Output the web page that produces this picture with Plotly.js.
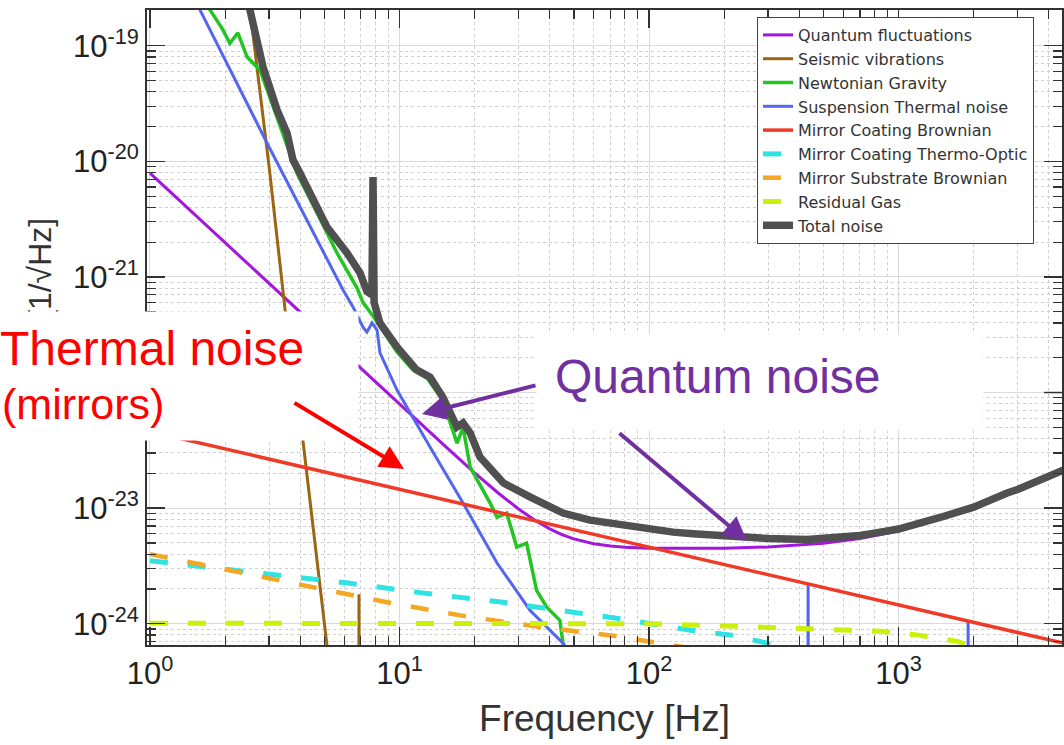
<!DOCTYPE html>
<html>
<head>
<meta charset="utf-8">
<script src="https://cdn.plot.ly/plotly-3.0.1.min.js"></script>
<style>
  html, body { margin: 0; padding: 0; background: #ffffff; }
  #chart { width: 1064px; height: 745px; }
</style>
</head>
<body>
<div id="chart"></div>
<script>
// ---------------- data ----------------
const quantumF = [1, 1.5, 2, 3, 4, 5, 7, 10, 12, 15, 20, 25, 30, 35, 40, 45, 50, 60, 70, 80, 100, 150, 200, 300, 500, 700, 1000, 1500, 2000, 3000, 5000];
const quantumV = [7.9e-21, 3.51e-21, 1.975e-21, 8.78e-22, 4.94e-22, 3.16e-22, 1.61e-22, 7.91e-23, 5.51e-23, 3.54e-23, 2.02e-23, 1.339e-23, 9.82e-24, 7.81e-24, 6.62e-24, 5.88e-24, 5.42e-24, 4.92e-24, 4.70e-24, 4.58e-24, 4.49e-24, 4.47e-24, 4.50e-24, 4.61e-24, 4.96e-24, 5.45e-24, 6.35e-24, 8.16e-24, 1.017e-23, 1.444e-23, 2.33e-23];

const seismicF = [2.3, 2.68, 3.0, 3.48, 4.1, 5.12, 5.6, 6.86, 6.88, 6.92, 10];
const seismicV = [1e-18, 6.5e-20, 9.1e-21, 5.15e-22, 3.87e-23, 6.5e-25, 1e-25, 1e-27, 1.8e-24, 1e-27, 1e-28];

const newtonF = [1.5, 1.74, 1.95, 2.09, 2.25, 2.45, 2.76, 3.2, 3.88, 4.67, 5.62, 6.76, 7.14, 7.83, 8.35, 9.77, 11.33, 12.9, 14.9, 17.0, 17.97, 19.2, 23.1, 24.6, 26.9, 29.5, 32.3, 35.4, 38.9, 43.9, 45.2, 50, 60, 100];
const newtonV = [3.5e-19, 2.04e-19, 1.4e-19, 1.05e-19, 1.29e-19, 7.98e-20, 6.17e-20, 2.55e-20, 7.92e-21, 3.57e-21, 1.61e-21, 8.0e-22, 6.0e-22, 4.6e-22, 3.7e-22, 2.24e-22, 1.56e-22, 1.33e-22, 8.6e-23, 3.65e-23, 5.0e-23, 2.26e-23, 1.10e-23, 8.35e-24, 9.05e-24, 4.6e-24, 4.98e-24, 1.95e-24, 1.39e-24, 1.07e-24, 6.8e-25, 3e-25, 1e-25, 1e-26];

const suspF = [1.0, 1.586, 2.944, 5.94, 6.51, 7.14, 7.4, 7.76, 8.13, 8.35, 9.77, 11.33, 13.25, 17.97, 24.6, 33.3, 45.2, 60, 100, 300, 430, 434, 438, 1890, 1900, 1910, 5000];
const suspV = [1.4e-18, 2.04e-19, 1.44e-20, 7.7e-22, 5.5e-22, 3.68e-22, 3.33e-22, 4.0e-22, 3.47e-22, 2.2e-22, 1.05e-22, 6.13e-23, 3.38e-23, 1.107e-23, 3.35e-24, 1.31e-24, 6.8e-25, 2.7e-25, 5e-26, 1e-27, 1e-28, 2.2e-24, 1e-28, 1e-29, 1.05e-24, 1e-29, 1e-30];

const coatBrF = [1, 3, 10, 30, 100, 300, 1000, 3000, 5000];
const coatBrV = [4.6e-23, 2.66e-23, 1.455e-23, 8.4e-24, 4.6e-24, 2.66e-24, 1.455e-24, 8.4e-25, 6.5e-25];

const coatToF = [1, 3.08, 6.22, 12.5, 25.5, 51.9, 73.1, 146, 211, 297, 401, 1000, 5000];
const coatToV = [3.5e-24, 2.69e-24, 2.25e-24, 1.84e-24, 1.54e-24, 1.24e-24, 1.12e-24, 8.8e-25, 8.0e-25, 6.8e-25, 4.9e-25, 2.5e-25, 8e-26];

const substrF = [1, 2.17, 4.41, 8.82, 17.97, 36.2, 73.1, 102.6, 200, 1000, 5000];
const substrV = [4.0e-24, 2.86e-24, 2.12e-24, 1.54e-24, 1.17e-24, 9.4e-25, 7.83e-25, 6.95e-25, 5.6e-25, 3.2e-25, 1.8e-25];

const gasF = [1, 100, 209, 424, 605, 851, 1206, 1740, 2500, 5000];
const gasV = [1.01e-24, 1.0e-24, 9.55e-25, 9.16e-25, 8.98e-25, 8.6e-25, 7.97e-25, 7.0e-25, 5e-25, 2.5e-25];

const totalF = [2.3, 2.52, 2.84, 3.23, 3.54, 3.74, 3.99, 4.5, 5.12, 6.16, 6.95, 7.4, 7.75, 7.83, 7.91, 8.35, 9.77, 11.7, 13.25, 14.9, 17.0, 17.97, 19.2, 21.0, 26.1, 33.3, 36.6, 45.2, 58, 70, 100, 125, 150, 200, 300, 430, 500, 700, 790, 1000, 1466, 2000, 2723, 3000, 4565, 5000];
const totalV = [8e-19, 2.0e-19, 6.54e-20, 2.78e-20, 1.76e-20, 1.03e-20, 7.92e-21, 4.63e-21, 2.70e-21, 1.61e-21, 1.08e-21, 7.5e-22, 7.0e-22, 7.3e-21, 6.0e-22, 3.99e-22, 2.48e-22, 1.57e-22, 1.36e-22, 9.14e-23, 5.03e-23, 5.45e-23, 4.46e-23, 2.77e-23, 1.65e-23, 1.25e-23, 1.13e-23, 9.06e-24, 7.88e-24, 7.4e-24, 6.6e-24, 6.2e-24, 6.0e-24, 5.7e-24, 5.45e-24, 5.35e-24, 5.45e-24, 5.8e-24, 6.05e-24, 6.6e-24, 8.3e-24, 1.02e-23, 1.35e-23, 1.45e-23, 2.13e-23, 2.34e-23];

const seriesNames = ['Quantum fluctuations', 'Seismic vibrations', 'Newtonian Gravity', 'Suspension Thermal noise', 'Mirror Coating Brownian', 'Mirror Coating Thermo-Optic', 'Mirror Substrate Brownian', 'Residual Gas', 'Total noise'];

const xTickVals = [1, 10, 100, 1000];
const xTickText = ['10<sup>0</sup>', '10<sup>1</sup>', '10<sup>2</sup>', '10<sup>3</sup>'];
// 10^-22 is hidden behind the "Thermal noise" overlay in the reference; only its grid line shows
const yTickVals = [1e-24, 1e-23, 1e-21, 1e-20, 1e-19];
const yTickText = ['10<sup>-24</sup>', '10<sup>-23</sup>', '10<sup>-21</sup>', '10<sup>-20</sup>', '10<sup>-19</sup>'];
const yHiddenDecade = 1e-22;

// ---------------- styling ----------------
const FONT = 'Liberation Sans, Arial, Helvetica, sans-serif';
const W = 1064, H = 745;
const M = {l: 147, r: 2, t: 10, b: 100};
const PW = W - M.l - M.r, PH = H - M.t - M.b;
const XR = [-0.012, 3.655], YR = [-24.184, -18.691];
function px(x) { return (x - M.l) / PW; }
function py(y) { return (H - M.b - y) / PH; }
function yPaper(v) { return (Math.log10(v) - YR[0]) / (YR[1] - YR[0]); }

function minorTicks(lo, hi) {
  const out = [];
  for (let e = lo; e <= hi; e++) for (let m = 2; m <= 9; m++) out.push(m * Math.pow(10, e));
  return out;
}

const dashPat = '18px,20px';
const traces = [
  {x: quantumF, y: quantumV, name: seriesNames[0], line: {color: '#a516dc', width: 3}},
  {x: seismicF, y: seismicV, name: seriesNames[1], line: {color: '#9a6612', width: 3}},
  {x: newtonF, y: newtonV, name: seriesNames[2], line: {color: '#22c522', width: 3.5}},
  {x: suspF, y: suspV, name: seriesNames[3], line: {color: '#5466ee', width: 3}},
  {x: coatBrF, y: coatBrV, name: seriesNames[4], line: {color: '#f03a28', width: 3.5}},
  {x: coatToF, y: coatToV, name: seriesNames[5], line: {color: '#2fe3e3', width: 5, dash: dashPat}},
  {x: substrF, y: substrV, name: seriesNames[6], line: {color: '#f5a623', width: 4.5, dash: dashPat}},
  {x: gasF, y: gasV, name: seriesNames[7], line: {color: '#cdf00a', width: 5, dash: dashPat}},
  {x: totalF, y: totalV, name: seriesNames[8], line: {color: '#505050', width: 7.5}}
].map(t => Object.assign({type: 'scatter', mode: 'lines', hoverinfo: 'skip'}, t));

const axisCommon = {
  type: 'log', tickmode: 'array', ticks: 'inside', ticklen: 18, tickwidth: 1.5, tickcolor: '#333',
  showline: true, linecolor: '#333', linewidth: 2, mirror: 'ticks',
  showgrid: true, gridcolor: '#dadada', gridwidth: 1, zeroline: false, automargin: false,
  tickfont: {family: FONT, size: 31, color: '#222'}
};

const layout = {
  width: W, height: H, margin: M,
  paper_bgcolor: '#ffffff', plot_bgcolor: '#ffffff',
  font: {family: FONT, color: '#333'},
  showlegend: true,
  legend: {
    x: px(757), y: py(17), xanchor: 'left', yanchor: 'top',
    bgcolor: '#ffffff', bordercolor: '#444', borderwidth: 1,
    font: {family: 'DejaVu Sans, Liberation Sans, sans-serif', size: 16, color: '#333'}, tracegroupgap: 0
  },
  xaxis: Object.assign({}, axisCommon, {
    range: XR, tickvals: xTickVals, ticktext: xTickText,
    minor: {tickmode: 'array', tickvals: minorTicks(0, 3), ticks: 'inside', ticklen: 9, tickcolor: '#333', tickwidth: 1.2,
            showgrid: true, gridcolor: '#cfcfcf', griddash: 'dot', gridwidth: 1},
    title: {text: 'Frequency [Hz]', font: {family: FONT, size: 37, color: '#333'}, standoff: 15}
  }),
  yaxis: Object.assign({}, axisCommon, {
    range: YR, tickvals: yTickVals, ticktext: yTickText,
    minor: {tickmode: 'array', tickvals: minorTicks(-25, -19), ticks: 'inside', ticklen: 9, tickcolor: '#333', tickwidth: 1.2,
            showgrid: true, gridcolor: '#cfcfcf', griddash: 'dot', gridwidth: 1}
  }),
  shapes: [
    // grid line and right-hand tick of the hidden 10^-22 decade
    {type: 'line', layer: 'below', xref: 'paper', yref: 'paper', x0: 0, x1: 1,
     y0: yPaper(yHiddenDecade), y1: yPaper(yHiddenDecade), line: {color: '#dadada', width: 1}},
    {type: 'line', layer: 'above', xref: 'paper', yref: 'paper', x0: 1 - 18 / PW, x1: 1,
     y0: yPaper(yHiddenDecade), y1: yPaper(yHiddenDecade), line: {color: '#333', width: 1.5}}
  ],
  annotations: [
    // y-axis title (its lower part is hidden by the overlay box, as in the reference)
    {text: '[1/√Hz]', xref: 'paper', yref: 'paper', x: px(40), y: py(269), textangle: -90,
     xanchor: 'center', yanchor: 'middle', showarrow: false, font: {family: FONT, size: 32, color: '#333'}},
    // white overlay boxes
    {text: ' ', xref: 'paper', yref: 'paper', x: px(179), y: py(376), width: 358, height: 128, borderpad: 0,
     xanchor: 'center', yanchor: 'middle', showarrow: false, bgcolor: '#ffffff'},
    {text: ' ', xref: 'paper', yref: 'paper', x: px(760), y: py(382.5), width: 446, height: 95, borderpad: 0,
     xanchor: 'center', yanchor: 'middle', showarrow: false, bgcolor: '#ffffff'},
    // callout texts
    {text: 'Thermal noise', xref: 'paper', yref: 'paper', x: px(-2), y: py(348), xanchor: 'left', yanchor: 'middle',
     showarrow: false, font: {family: FONT, size: 48, color: '#ff0000'}},
    {text: '(mirrors)', xref: 'paper', yref: 'paper', x: px(0), y: py(404), xanchor: 'left', yanchor: 'middle',
     showarrow: false, font: {family: FONT, size: 43, color: '#ff0000'}},
    {text: 'Quantum noise', xref: 'paper', yref: 'paper', x: px(553), y: py(377), xanchor: 'left', yanchor: 'middle',
     showarrow: false, font: {family: FONT, size: 48, color: '#7030a0'}},
    // arrows
    {text: '', xref: 'paper', yref: 'paper', x: px(404), y: py(469), ax: 293 - 404, ay: 402 - 469,
     showarrow: true, arrowhead: 2, arrowsize: 1.2, arrowwidth: 4, arrowcolor: '#ff0000', standoff: 0},
    {text: '', xref: 'paper', yref: 'paper', x: px(422), y: py(414), ax: 537 - 422, ay: 385 - 414,
     showarrow: true, arrowhead: 2, arrowsize: 1.2, arrowwidth: 4, arrowcolor: '#7030a0', standoff: 0},
    {text: '', xref: 'paper', yref: 'paper', x: px(747), y: py(541), ax: 618 - 747, ay: 432 - 541,
     showarrow: true, arrowhead: 2, arrowsize: 1.2, arrowwidth: 4, arrowcolor: '#7030a0', standoff: 0}
  ]
};

Plotly.newPlot('chart', traces, layout, {staticPlot: true, displayModeBar: false});
</script>
</body>
</html>
